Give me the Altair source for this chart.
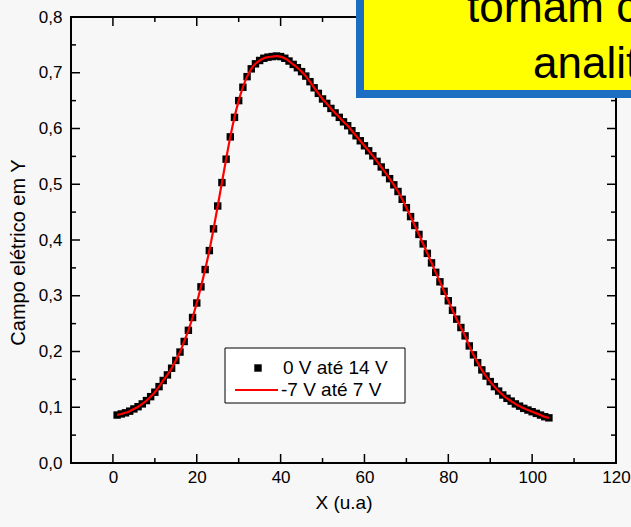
import altair as alt
import pandas as pd

FONT = "Liberation Sans, Arial, sans-serif"

# ---- data ----
x_vals = list(range(1, 105))
y_0_14 = [
    0.086, 0.088, 0.090, 0.093, 0.097, 0.101, 0.106, 0.112, 0.119, 0.127,
    0.137, 0.148, 0.158, 0.170, 0.184, 0.199, 0.218, 0.238, 0.261, 0.287,
    0.316, 0.347, 0.381, 0.420, 0.461, 0.503, 0.545, 0.585, 0.620, 0.650,
    0.674, 0.693, 0.707, 0.716, 0.722, 0.726, 0.728, 0.729, 0.730, 0.729,
    0.726, 0.721, 0.715, 0.709, 0.702, 0.694, 0.684, 0.673, 0.663, 0.653,
    0.645, 0.636, 0.628, 0.620, 0.612, 0.605, 0.596, 0.587, 0.578, 0.569,
    0.560, 0.551, 0.541, 0.531, 0.521, 0.510, 0.499, 0.487, 0.473, 0.458,
    0.442, 0.426, 0.410, 0.393, 0.376, 0.359, 0.342, 0.325, 0.308, 0.291,
    0.274, 0.258, 0.243, 0.228, 0.210, 0.194, 0.180, 0.167, 0.156, 0.146,
    0.137, 0.129, 0.122, 0.116, 0.111, 0.106, 0.102, 0.098, 0.095, 0.092,
    0.089, 0.086, 0.083, 0.081,
]
y_m7_7 = list(y_0_14)

series_labels = ["0 V até 14 V", "-7 V até 7 V"]
x_major = [0, 20, 40, 60, 80, 100, 120]
x_minor = [10, 30, 50, 70, 90, 110]
y_major = [0.0, 0.1, 0.2, 0.3, 0.4, 0.5, 0.6, 0.7, 0.8]
y_minor = [0.05, 0.15, 0.25, 0.35, 0.45, 0.55, 0.65, 0.75]
box_lines = ["tornam comparáveis", "analiticamente"]

W, H = 545, 446

df_sq = pd.DataFrame({"x": x_vals, "y": y_0_14})
df_ln = pd.DataFrame({"x": x_vals, "y": y_m7_7})

xs = alt.Scale(domain=[-10, 120], nice=False, zero=False)
ys = alt.Scale(domain=[0, 0.8], nice=False, zero=False)

x_axis = alt.Axis(values=x_major, ticks=False, domain=False, grid=False,
                  labelFlush=False, labelOverlap=False,
                  labelFontSize=17, labelPadding=6, labelColor="black",
                  labelFont=FONT, title="X (u.a)", titleFontSize=19,
                  titleFont=FONT, titleFontWeight="normal", titleColor="black",
                  titlePadding=8)
y_axis = alt.Axis(values=y_major, ticks=False, domain=False, grid=False,
                  labelFlush=False, labelOverlap=False,
                  labelExpr="replace(format(datum.value, '.1f'), '.', ',')",
                  labelFontSize=17, labelPadding=9, labelColor="black",
                  labelFont=FONT, title="Campo elétrico em Y", titleFontSize=20,
                  titleFont=FONT, titleFontWeight="normal", titleColor="black",
                  titlePadding=10, titleY=235)

X = alt.X("x:Q", scale=xs, axis=x_axis)
Y = alt.Y("y:Q", scale=ys, axis=y_axis)

squares = alt.Chart(df_sq).mark_square(size=55, color="black", opacity=1).encode(x=X, y=Y)
line = alt.Chart(df_ln).mark_line(color="#ff0000", strokeWidth=2.2,
                                  interpolate="monotone").encode(x=X, y=Y)

def xticks(vals, length):
    d = pd.DataFrame({"x": vals})
    bottom = alt.Chart(d).mark_rule(color="black", strokeWidth=1.5).encode(
        x=X, y=alt.value(H), y2=alt.value(H - length))
    top = alt.Chart(d).mark_rule(color="black", strokeWidth=1.5).encode(
        x=X, y=alt.value(0), y2=alt.value(length))
    return [bottom, top]

def yticks(vals, length):
    d = pd.DataFrame({"y": vals})
    left = alt.Chart(d).mark_rule(color="black", strokeWidth=1.5).encode(
        y=Y, x=alt.value(0), x2=alt.value(length))
    right = alt.Chart(d).mark_rule(color="black", strokeWidth=1.5).encode(
        y=Y, x=alt.value(W), x2=alt.value(W - length))
    return [left, right]

ticks = xticks(x_major, 9) + xticks(x_minor, 5) + yticks(y_major, 9) + yticks(y_minor, 5)

one = pd.DataFrame({"a": [0]})

# plot frame
frame = alt.Chart(one).mark_rect(fill=None, stroke="black", strokeWidth=2).encode(
    x=alt.value(0), x2=alt.value(W), y=alt.value(0), y2=alt.value(H))

# legend
leg_box = alt.Chart(one).mark_rect(fill="white", stroke="black", strokeWidth=1).encode(
    x=alt.value(154), x2=alt.value(334), y=alt.value(331), y2=alt.value(386))
leg_sq = alt.Chart(one).mark_square(size=55, color="black", opacity=1).encode(
    x=alt.value(187), y=alt.value(351))
leg_ln = alt.Chart(one).mark_rule(color="#ff0000", strokeWidth=2.2).encode(
    x=alt.value(164), x2=alt.value(207), y=alt.value(373))
leg_t1 = alt.Chart(pd.DataFrame({"t": [series_labels[0]]})).mark_text(
    align="left", baseline="middle", fontSize=19, font=FONT, color="black").encode(
    text="t:N", x=alt.value(212), y=alt.value(351))
leg_t2 = alt.Chart(pd.DataFrame({"t": [series_labels[1]]})).mark_text(
    align="left", baseline="middle", fontSize=19, font=FONT, color="black").encode(
    text="t:N", x=alt.value(210), y=alt.value(373))

# yellow callout box at top-right
box_blue = alt.Chart(one).mark_rect(fill="#1B6EC2").encode(
    x=alt.value(285), x2=alt.value(700), y=alt.value(-60), y2=alt.value(81))
box_yel = alt.Chart(one).mark_rect(fill="#FFFF00").encode(
    x=alt.value(293), x2=alt.value(700), y=alt.value(-60), y2=alt.value(73))
box_t1 = alt.Chart(pd.DataFrame({"t": [box_lines[0]]})).mark_text(
    align="left", baseline="alphabetic", fontSize=44, font=FONT, color="black").encode(
    text="t:N", x=alt.value(396), y=alt.value(5))
box_t2 = alt.Chart(pd.DataFrame({"t": [box_lines[1]]})).mark_text(
    align="left", baseline="alphabetic", fontSize=44, font=FONT, color="black").encode(
    text="t:N", x=alt.value(462), y=alt.value(61))

chart = alt.layer(
    squares, line, *ticks, frame, leg_box, leg_sq, leg_ln, leg_t1, leg_t2,
    box_blue, box_yel, box_t1, box_t2,
).properties(
    width=W, height=H,
    background="#f7f7f7",
    autosize=alt.AutoSizeParams(type="none"),
    padding={"left": 71, "top": 17, "right": 15, "bottom": 64},
).configure_view(
    stroke=None
)

chart.save("out.html", embed_options={"renderer": "svg", "actions": False})
